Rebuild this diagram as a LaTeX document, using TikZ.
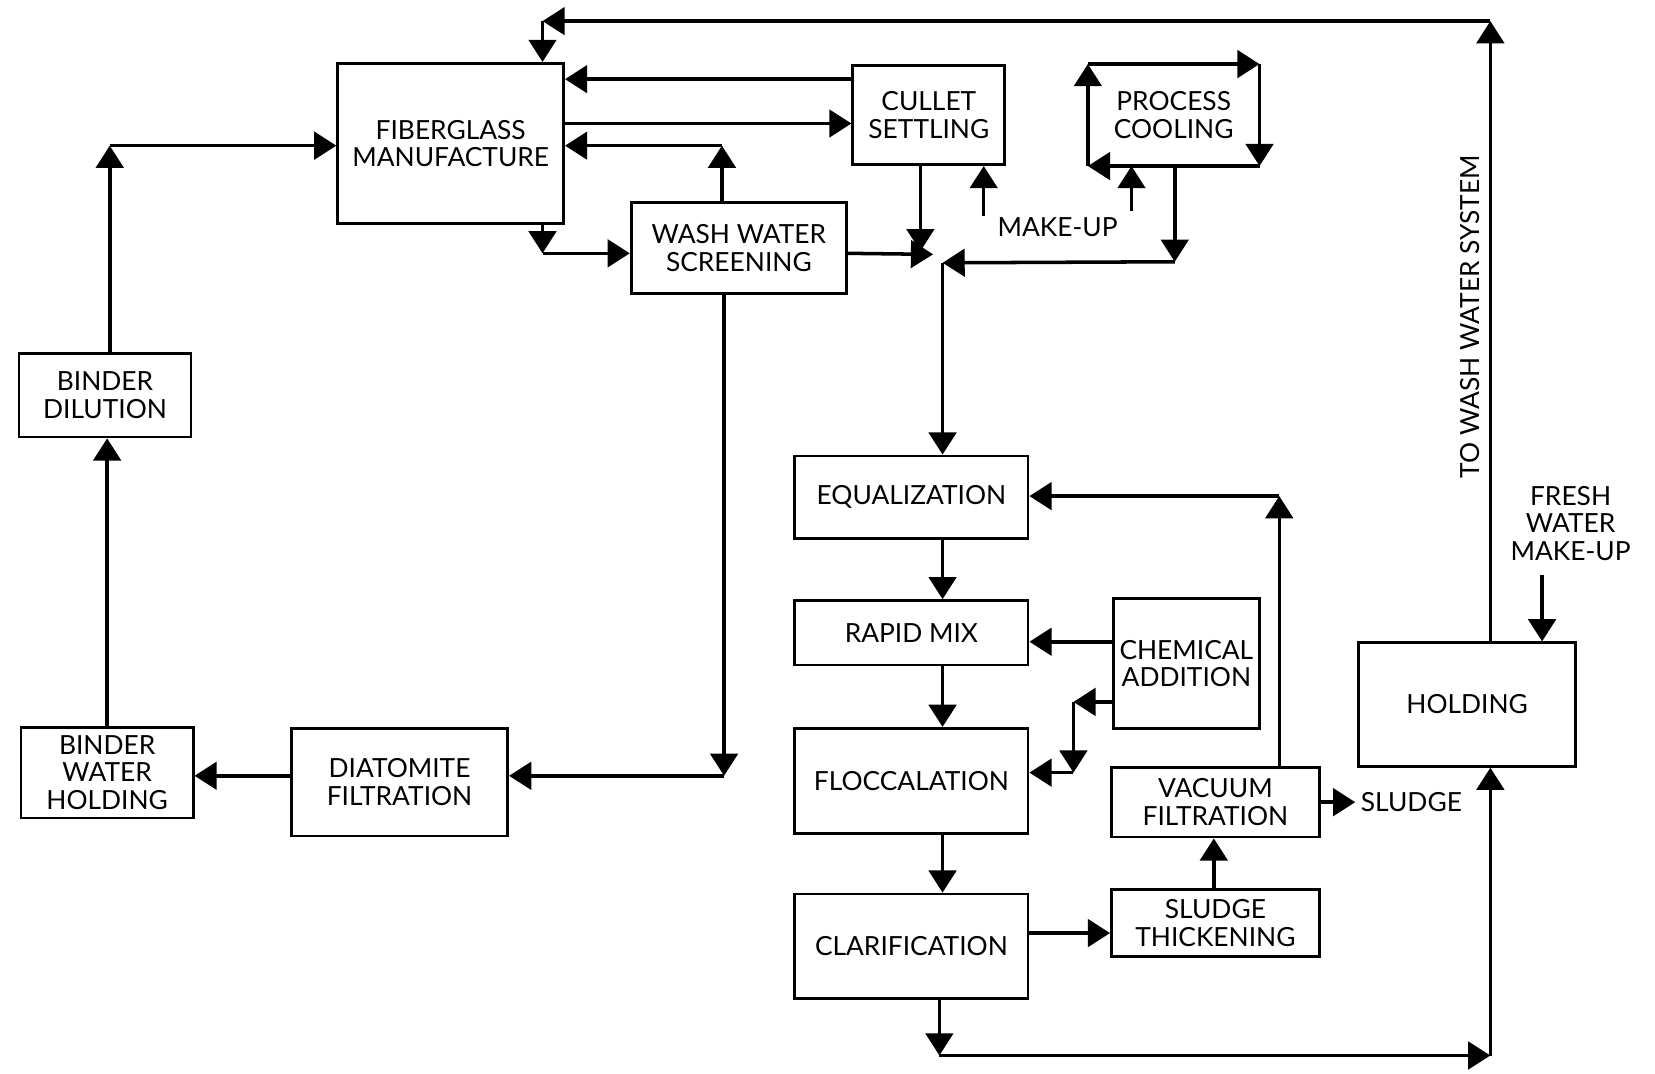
\documentclass[tikz,border=0pt]{standalone}
\usepackage{fontspec}
\setmainfont{Lato}
\usetikzlibrary{arrows.meta}
\newcommand{\boxfont}{\fontsize{14.2}{14.8}\selectfont}
\begin{document}
\begin{tikzpicture}[x=0.2mm, y=-0.2mm,
    box/.style={draw, line width=1.5pt, align=center, inner sep=0pt, font=\boxfont},
    lbl/.style={align=center, inner sep=0pt, font=\boxfont},
    flow/.style={line width=1.9pt, -{Triangle[length=4.2mm,width=5.2mm]}}]
  \useasboundingbox (0,0) rectangle (1568,1017);

  % process blocks
  \node[box, minimum width=42.8mm, minimum height=30.4mm] (fiber) at (427,136) {FIBERGLASS\\MANUFACTURE};
  \node[box, minimum width=28.8mm, minimum height=18.8mm] (cullet) at (880,109) {CULLET\\SETTLING};
  \node[box, draw=none, minimum width=32mm, minimum height=18.8mm] (cool) at (1112,109) {PROCESS\\COOLING};
  \node[box, minimum width=40.8mm, minimum height=17.2mm] (wws) at (700,235) {WASH WATER\\SCREENING};
  \node[box, minimum width=32.6mm, minimum height=15.8mm] (bdil) at (99.5,374.5) {BINDER\\DILUTION};
  \node[box, minimum width=32.6mm, minimum height=17.2mm] (bwh) at (101.5,732) {BINDER\\WATER\\HOLDING};
  \node[box, minimum width=41mm, minimum height=20.4mm] (diat) at (378.5,741) {DIATOMITE\\FILTRATION};
  \node[box, minimum width=44.2mm, minimum height=15.6mm] (equal) at (863.5,471) {EQUALIZATION};
  \node[box, minimum width=44.2mm, minimum height=12.2mm] (rapid) at (863.5,599.5) {RAPID MIX};
  \node[box, minimum width=27.6mm, minimum height=24.6mm] (chem) at (1124,628.5) {CHEMICAL\\ADDITION};
  \node[box, minimum width=44.2mm, minimum height=20mm] (flocc) at (863.5,740) {FLOCCALATION};
  \node[box, minimum width=44.2mm, minimum height=19.8mm] (clar) at (863.5,896.5) {CLARIFICATION};
  \node[box, minimum width=39.4mm, minimum height=12.6mm] (thick) at (1151.5,874.5) {SLUDGE\\THICKENING};
  \node[box, minimum width=39.4mm, minimum height=13.2mm] (vac) at (1151.5,760) {VACUUM\\FILTRATION};
  \node[box, minimum width=41.2mm, minimum height=23.4mm] (hold) at (1390,667.5) {HOLDING};

  % free labels
  \node[lbl] (makeup) at (1002,215) {MAKE-UP};
  \node[lbl, anchor=west] (sludge) at (1289,760) {SLUDGE};
  \node[lbl] (fresh) at (1488,496) {FRESH\\WATER\\MAKE-UP};
  \node[lbl, rotate=90] (tows) at (1393,300) {TO WASH WATER SYSTEM};

  % corner points
  \coordinate (tr) at (1412,20);
  \coordinate (tl) at (514,20);
  \coordinate (wu) at (684,138);
  \coordinate (fd) at (514,240);
  \coordinate (bu) at (104,138);
  \coordinate (wd) at (686,735);
  \coordinate (jc) at (872,238);
  \coordinate (jw) at (884,241);
  \coordinate (jp) at (893,249);
  \coordinate (cr) at (1113,248);
  \coordinate (mu1) at (932,205);
  \coordinate (mu2) at (1072,200);
  \coordinate (ca) at (1017,665);
  \coordinate (cb) at (1017,732);
  \coordinate (va) at (1212,470);
  \coordinate (cl) at (890,1000);
  \coordinate (hr) at (1412,1000);
  \coordinate (fw) at (1461,545);

  % return to wash water system
  \draw[flow] (hold.north -| tr) -- (tr);
  \draw[flow] (tr) -- (tl);
  \draw[flow] (tl) -- (fiber.north -| tl);

  % fiberglass loop
  \draw[flow] (cullet.west |- 0,75) -- (fiber.east |- 0,75);
  \draw[flow] (fiber.east |- 0,117) -- (cullet.west |- 0,117);
  \draw[flow] (wws.north -| wu) -- (wu);
  \draw[flow] (wu) -- (fiber.east |- wu);
  \draw[flow] (fiber.south -| fd) -- (fd);
  \draw[flow] (fd) -- (wws.west |- fd);

  % binder side
  \draw[flow] (bdil.north -| bu) -- (bu);
  \draw[flow] (bu) -- (fiber.west |- bu);
  \draw[flow] (bwh.north) -- (bwh.north |- bdil.south);
  \draw[flow] (diat.west |- wd) -- (bwh.east |- wd);
  \draw[flow] (wws.south -| wd) -- (wd);
  \draw[flow] (wd) -- (diat.east |- wd);

  % process cooling loop
  \draw[flow] (cool.south west) -- (cool.north west);
  \draw[flow] (cool.north west) -- (cool.north east);
  \draw[flow] (cool.north east) -- (cool.south east);
  \draw[flow] (cool.south east) -- (cool.south west);
  \draw[flow] (mu1) -- (cullet.south -| mu1);
  \draw[flow] (mu2) -- (cool.south -| mu2);

  % to treatment
  \draw[flow] (cullet.south -| jc) -- (jc);
  \draw[flow] (wws.east |- 0,240) -- (jw);
  \draw[flow] (cool.south -| cr) -- (cr);
  \draw[flow] (cr) -- (jp);
  \draw[flow] (jp) -- (equal.north -| jp);

  % treatment train
  \draw[flow] (equal.south -| jp) -- (rapid.north -| jp);
  \draw[flow] (rapid.south -| jp) -- (flocc.north -| jp);
  \draw[flow] (flocc.south -| jp) -- (clar.north -| jp);
  \draw[flow] (chem.west |- 0,608) -- (rapid.east |- 0,608);
  \draw[flow] (chem.west |- ca) -- (ca);
  \draw[flow] (ca) -- (cb);
  \draw[flow] (cb) -- (flocc.east |- cb);
  \draw[flow] (clar.east |- 0,884) -- (thick.west |- 0,884);
  \draw[flow] (thick.north -| 1150,0) -- (vac.south -| 1150,0);
  \draw[flow] (vac.east) -- ([xshift=-1mm]sludge.west);
  \draw[flow] (vac.north -| va) -- (va);
  \draw[flow] (va) -- (equal.east |- va);
  \draw[flow] (clar.south -| cl) -- (cl);
  \draw[flow] (cl) -- (hr);
  \draw[flow] (hr) -- (hold.south -| hr);
  \draw[flow] (fw) -- (hold.north -| fw);
\end{tikzpicture}
\end{document}
